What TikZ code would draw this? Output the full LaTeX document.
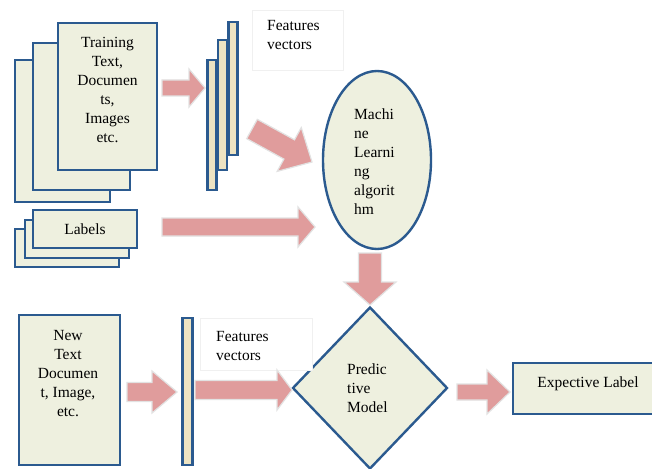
\documentclass[tikz,border=0pt]{standalone}
\usepackage{fontspec}
\setmainfont{Liberation Serif}
\usetikzlibrary{calc,shapes.geometric}
\definecolor{boxfill}{HTML}{EEF0DF}
\definecolor{boxline}{HTML}{2B5A8F}
\definecolor{barfill}{HTML}{EDE3C2}
\definecolor{arrowfill}{HTML}{E09C9C}
\definecolor{arrowline}{HTML}{E2E2E2}
\newcommand\blockarrow[5]{%
  \filldraw[fill=arrowfill, draw=arrowline, line width=1.2pt, line join=miter]
    let \p1=(#1), \p2=(#2), \n1={atan2(\y2-\y1,\x2-\x1)}, \n2={veclen(\x2-\x1,\y2-\y1)} in
    ($(\p1)+(\n1+90:#3)$) -- ($(\p1)+(\n1:\n2-#5)+(\n1+90:#3)$) --
    ($(\p1)+(\n1:\n2-#5)+(\n1+90:#4)$) -- (\p2) --
    ($(\p1)+(\n1:\n2-#5)+(\n1-90:#4)$) -- ($(\p1)+(\n1:\n2-#5)+(\n1-90:#3)$) --
    ($(\p1)+(\n1-90:#3)$) -- cycle;}
\tikzset{
  page/.style={draw=boxline, fill=boxfill, line width=2.4pt, inner sep=0pt},
  vbar/.style={draw=boxline, fill=barfill, line width=2.2pt, inner sep=0pt, minimum width=9pt},
  txt/.style={font=\fontsize{15.5}{19}\selectfont, inner sep=0pt},
  lbox/.style={draw=black!6, fill=white, line width=0.6pt, inner sep=0pt},
}
\begin{document}
\begin{tikzpicture}[x=1pt,y=-1pt]
\useasboundingbox (0,0) rectangle (652,468);
\clip (0,0) rectangle (652,468);
\fill[white] (0,0) rectangle (652,468);
% training stack
\node[page, minimum width=95pt, minimum height=142pt] (tr3) at (62.5,131) {};
\node[page, minimum width=97pt, minimum height=147pt] (tr2) at (81.5,116.5) {};
\node[page, minimum width=99pt, minimum height=147pt] (tr1) at (107.5,96.5) {};
\node[txt, align=center] (trt) at (107.5,90) {Training\\Text,\\Documen\\ts,\\Images\\etc.};
% labels stack
\node[page, minimum width=104pt, minimum height=38pt] (lb3) at (67,248) {};
\node[page, minimum width=104pt, minimum height=38pt] (lb2) at (77,239) {};
\node[page, minimum width=104pt, minimum height=38pt] (lb1) at (85,229) {};
\node[txt] (lbt) at (lb1) {Labels};
% top feature bars
\node[vbar, minimum height=133pt] (fv1) at (233,88.5) {};
\node[vbar, minimum height=130pt] (fv2) at (222.5,105) {};
\node[vbar, minimum height=130pt] (fv3) at (212,125) {};
\node[lbox, minimum width=91pt, minimum height=60pt] (fvlab) at (297.5,40) {};
\node[txt, align=left, anchor=west] (fvt) at (267,35) {Features\\vectors};
% ellipse
\node[ellipse, draw=boxline, fill=boxfill, line width=2.4pt, minimum width=108pt, minimum height=178pt] (ml) at (377,160) {};
\node[txt, align=left, anchor=west] (mlt) at (354,162) {Machi\\ne\\Learni\\ng\\algorit\\hm};
% diamond
\node[diamond, draw=boxline, fill=boxfill, line width=2.4pt, minimum width=155pt, minimum height=162pt, inner sep=0pt] (pm) at (370,388) {};
\node[txt, align=left, anchor=west] (pmt) at (347,388) {Predic\\tive\\Model};
% new document
\node[page, minimum width=101pt, minimum height=150pt] (nw) at (69.5,390) {};
\node[txt, align=center] (nwt) at (68,374) {New\\Text\\Documen\\t, Image,\\etc.};
% bottom bar
\node[vbar, minimum height=147pt, minimum width=10pt] (fvb) at (187.5,391.5) {};
\node[lbox, minimum width=112pt, minimum height=52pt] (fvblab) at (256,344) {};
\node[txt, align=left, anchor=west] (fvbt) at (216,346) {Features\\vectors};
% expective label
\node[page, minimum width=152pt, minimum height=51pt] (ex) at (589,388.5) {};
\node[txt] (ext) at (588,384) {Expective Label};
% arrows
\coordinate (a1s) at (162,88);  \coordinate (a1e) at (205,88);
\coordinate (a2s) at (252,129); \coordinate (a2e) at (312,162);
\coordinate (a3s) at (162,227); \coordinate (a3e) at (315,227);
\coordinate (a4s) at (370,253); \coordinate (a4e) at (370,305);
\coordinate (a5s) at (127,392); \coordinate (a5e) at (177,392);
\coordinate (a6s) at (195,390); \coordinate (a6e) at (292,390);
\coordinate (a7s) at (457,392); \coordinate (a7e) at (510,392);
\blockarrow{a1s}{a1e}{8pt}{19pt}{16pt}
\blockarrow{a2s}{a2e}{11pt}{25pt}{26pt}
\blockarrow{a3s}{a3e}{9pt}{20pt}{17pt}
\blockarrow{a4s}{a4e}{11.5pt}{26pt}{23pt}
\blockarrow{a5s}{a5e}{9.5pt}{21pt}{25pt}
\blockarrow{a6s}{a6e}{9.5pt}{20pt}{15pt}
\blockarrow{a7s}{a7e}{8pt}{22pt}{23pt}
\end{tikzpicture}
\end{document}
